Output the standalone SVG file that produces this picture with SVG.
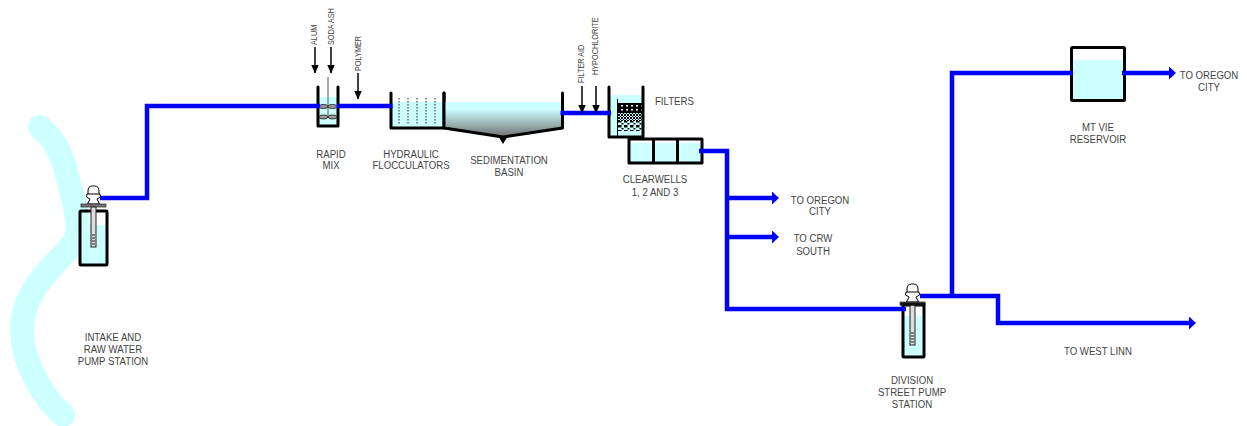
<svg xmlns="http://www.w3.org/2000/svg" width="1247" height="426" viewBox="0 0 1247 426">
<style>
text{font-family:"Liberation Sans",Arial,sans-serif;font-size:11px;fill:#444;text-anchor:middle;transform-box:fill-box;transform-origin:center;transform:scaleX(.875)}
.s{text-anchor:start;transform-origin:left}
.v{text-anchor:start;font-size:9.6px;transform-origin:left;transform:scaleX(.76)}
.pipe{fill:none;stroke:#00f;stroke-width:4.500;stroke-linejoin:miter}
.wall{fill:none;stroke:#000;stroke-width:3;stroke-linecap:round;stroke-linejoin:round}
.water{fill:#ccffff;stroke:none}
.feed{stroke:#000;stroke-width:1.500;fill:none}
.dot{stroke:#222;stroke-width:1;stroke-dasharray:1.500 1.500}
</style>
<defs>
<marker id="b" markerUnits="userSpaceOnUse" markerWidth="9" markerHeight="13" refX="1" refY="6.500" orient="auto"><path d="M1 0L8 6.500L1 13z" fill="#00f"/></marker>
<marker id="k" markerUnits="userSpaceOnUse" markerWidth="9" markerHeight="9" refX="8.500" refY="4.500" orient="auto"><path d="M0 0.500L9 4.500L0 8.500z" fill="#000"/></marker>
<linearGradient id="sed" x1="0" y1="0" x2="0" y2="1"><stop offset="0.2" stop-color="#ccffff"/><stop offset="1" stop-color="#707070"/></linearGradient>
<pattern id="media" width="5" height="4" patternUnits="userSpaceOnUse"><rect width="5" height="4" fill="#000"/><rect x="1" y="1" width="2" height="1.500" fill="#fff"/></pattern>
<pattern id="media2" width="3" height="3" patternUnits="userSpaceOnUse"><rect width="2" height="2" fill="#000"/><rect x="2" y="2" width="1" height="1" fill="#000"/></pattern>
<pattern id="media3" width="6" height="5" patternUnits="userSpaceOnUse"><rect width="3.500" height="2.500" fill="#000"/><rect x="3.500" y="3" width="2" height="1.500" fill="#000"/></pattern>
<g id="pump">
<path d="M-5.500 11V5Q-5.500 0 -1 0H1Q5.500 0 5.500 5V11z" fill="#fff" stroke="#000"/>
<path d="M-6.500 8H6.500L7 11L3.500 13L6 18H-6L-3.500 13L-7 11z" fill="#fff" stroke="#000"/>
<rect x="-12.500" y="18" width="25" height="3" fill="#777" stroke="#222" stroke-width="0.700"/>
<rect x="-2.500" y="21" width="5" height="40" fill="#ddd" stroke="#222"/>
<path d="M-1.500 49h3M-1.500 52h3M-1.500 55h3M-1.500 58h3" stroke="#222" stroke-width="1.200"/>
</g>
</defs>

<path id="river" d="M40 127C55 140 62 155 67 175C72 195 80 220 77 235C73 255 20 280 22 333C23 365 45 400 63 415" fill="none" stroke="#ccffff" stroke-width="24" stroke-linecap="round"/>

<g id="intake-pump">
<path class="water" d="M80 225H107V264H80z"/>
<rect x="80" y="211" width="27" height="54" rx="1" fill="none" stroke="#000" stroke-width="3"/>
<use href="#pump" x="93.500" y="186"/>
</g>

<g id="rapid-mix">
<rect class="water" x="319" y="97" width="19" height="29"/>
<path class="wall" d="M318 87V126H338V87"/>
<path d="M328 77V117" stroke="#555" stroke-width="1"/>
<g fill="#999" stroke="#111" stroke-width="0.800"><ellipse cx="323.500" cy="106.500" rx="4.500" ry="2"/><ellipse cx="332.500" cy="106.500" rx="4.500" ry="2"/><ellipse cx="323.500" cy="117" rx="4.500" ry="2"/><ellipse cx="332.500" cy="117" rx="4.500" ry="2"/></g>
</g>

<g id="flocculators">
<rect class="water" x="391" y="102" width="53" height="26"/>
<path class="dot" d="M399 98V125M408 98V125M417 98V125M426 98V125M435 98V125"/>
<path class="wall" d="M391 93V128H444V93"/>
</g>

<g id="sedimentation">
<path d="M444 102H562V128L503 137L444 128z" fill="url(#sed)"/>
<path class="wall" d="M444 93V128L503 137L562.500 128V93"/>
<path d="M498 136H508L503 144z" fill="#000"/>
</g>

<g id="filters">
<rect class="water" x="609" y="95" width="34" height="41"/>
<rect x="618" y="103" width="24" height="10" fill="url(#media)"/>
<rect x="618" y="113" width="24" height="8" fill="url(#media2)"/>
<rect x="618" y="121" width="24" height="10" fill="url(#media3)"/>
<path d="M617.500 99V137" stroke="#000" stroke-width="1"/>
<path class="wall" d="M609 87V137H643V87"/>
</g>

<g id="clearwells">
<rect class="water" x="629" y="143" width="73" height="20"/>
<path class="wall" d="M629 139H702V163H629zM653.500 139V163M677.500 139V163"/>
</g>

<g id="division-pump">
<path class="water" d="M904 316H922V356H904z"/>
<rect x="903" y="305" width="21" height="52" rx="1" fill="none" stroke="#000" stroke-width="3"/>
<use href="#pump" x="912.500" y="284"/>
<rect x="900.500" y="302.500" width="25" height="3" fill="#111"/>
</g>

<g id="reservoir">
<rect class="water" x="1072" y="60" width="53" height="41"/>
<rect x="1071.500" y="47.500" width="53" height="53" rx="1" fill="none" stroke="#000" stroke-width="3"/>
</g>

<g id="connectors">
<path class="pipe" d="M100 198H147V106H320"/>
<path class="pipe" d="M337 106H392.500"/>
<path class="pipe" d="M560.500 113H611"/>
<path class="pipe" d="M699 151H727V309H906"/>
<path class="pipe" d="M727 198H772" marker-end="url(#b)"/>
<path class="pipe" d="M727 237H772" marker-end="url(#b)"/>
<path class="pipe" d="M920 296H998V323H1189" marker-end="url(#b)"/>
<path class="pipe" d="M952 296V73H1073"/>
<path class="pipe" d="M1122 73H1169" marker-end="url(#b)"/>
<path class="feed" d="M315 47V73" marker-end="url(#k)"/>
<path class="feed" d="M331 47V73" marker-end="url(#k)"/>
<path class="feed" d="M358 73V99" marker-end="url(#k)"/>
<path class="feed" d="M582 86V113" marker-end="url(#k)"/>
<path class="feed" d="M596 86V113" marker-end="url(#k)"/>
</g>

<g id="labels">
<text x="113" y="341">INTAKE AND</text><text x="113" y="353">RAW WATER</text><text x="113" y="365">PUMP STATION</text>
<text x="331" y="158">RAPID</text><text x="331" y="169">MIX</text>
<text x="411" y="158">HYDRAULIC</text><text x="411" y="169">FLOCCULATORS</text>
<text x="509" y="164">SEDIMENTATION</text><text x="509" y="176">BASIN</text>
<text class="s" x="655" y="105">FILTERS</text>
<text x="655" y="183">CLEARWELLS</text><text x="655" y="196">1, 2 AND 3</text>
<text x="820" y="204">TO OREGON</text><text x="820" y="215">CITY</text>
<text x="813" y="242">TO CRW</text><text x="813" y="255">SOUTH</text>
<text x="912" y="384">DIVISION</text><text x="912" y="396">STREET PUMP</text><text x="912" y="408">STATION</text>
<text x="1098" y="131">MT VIE</text><text x="1098" y="143">RESERVOIR</text>
<text x="1209" y="79">TO OREGON</text><text x="1209" y="91">CITY</text>
<text x="1098" y="355">TO WEST LINN</text>
<g transform="translate(317 45) rotate(-90)"><text class="v">ALUM</text></g>
<g transform="translate(333.500 45) rotate(-90)"><text class="v">SODA ASH</text></g>
<g transform="translate(360.500 71) rotate(-90)"><text class="v">POLYMER</text></g>
<g transform="translate(584 83) rotate(-90)"><text class="v">FILTER AID</text></g>
<g transform="translate(597.500 75) rotate(-90)"><text class="v">HYPOCHLORITE</text></g>
</g>
</svg>
